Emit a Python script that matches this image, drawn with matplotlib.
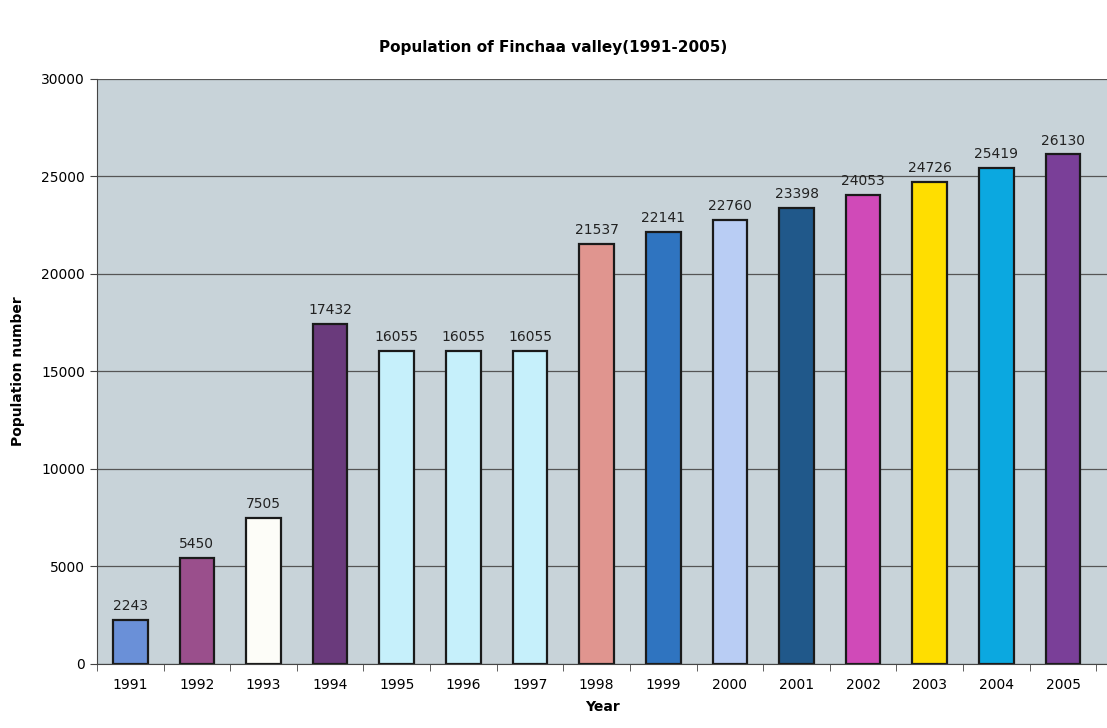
import numpy as np
import matplotlib.pyplot as plt

years = ["1991", "1992", "1993", "1994", "1995", "1996", "1997", "1998",
         "1999", "2000", "2001", "2002", "2003", "2004", "2005"]
population = [2243, 5450, 7505, 17432, 16055, 16055, 16055, 21537,
              22141, 22760, 23398, 24053, 24726, 25419, 26130]
bar_colors = ["#6a90d8", "#9a4f8c", "#fdfdf8", "#6a3a7c", "#c6f0fb", "#c6f0fb",
              "#c6f0fb", "#e0958f", "#2f74c0", "#b9cdf4", "#20588a", "#d04ab8",
              "#ffde00", "#0ba8e0", "#7a3f98"]

fig = plt.figure(figsize=(11.07, 7.28), dpi=100)
ax = fig.add_axes([0.0876, 0.088, 0.9124, 0.8035])
ax.set_facecolor("#c8d3d9")

x = np.arange(len(years))
ax.set_axisbelow(True)
ax.yaxis.grid(True, color="#555555", linewidth=0.9)
ax.bar(x, population, width=0.52, color=bar_colors, edgecolor="#1a1a1a", linewidth=1.6)

for xi, v in zip(x, population):
    ax.text(xi, v + 350, str(v), ha="center", va="bottom", fontsize=10, color="#222222")

ax.set_ylim(0, 30000)
ax.set_xlim(-0.5, 14.66)
ax.set_yticks(range(0, 30001, 5000))
ax.set_xticks(x)
ax.set_xticklabels(years, fontsize=10)
ax.set_xticks(np.arange(-0.5, 15, 1), minor=True)
ax.tick_params(axis="x", which="major", length=0, pad=10)
ax.tick_params(axis="x", which="minor", length=5, color="#444444")
ax.tick_params(axis="y", labelsize=10, length=5, color="#444444")

for s in ["top", "right"]:
    ax.spines[s].set_visible(False)
ax.spines["left"].set_color("#444444")
ax.spines["bottom"].set_color("#444444")

ax.set_xlabel("Year", fontsize=10, fontweight="bold", labelpad=6)
ax.set_ylabel("Population number", fontsize=10, fontweight="bold", labelpad=12)
fig.suptitle("Population of Finchaa valley(1991-2005)", fontsize=11, fontweight="bold", y=0.945)

fig.savefig("out.png", dpi=100)
